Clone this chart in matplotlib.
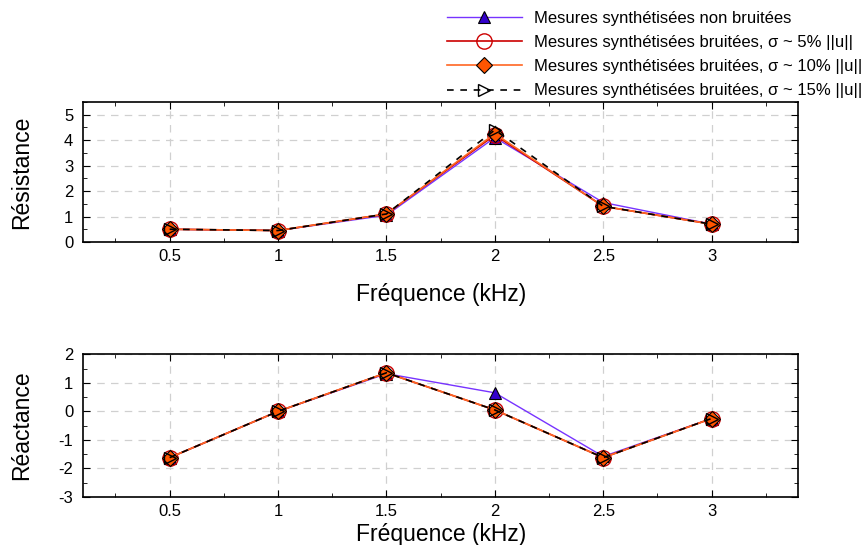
import numpy as np
import matplotlib
matplotlib.use('Agg')
from matplotlib import pyplot as plt
from matplotlib.ticker import MultipleLocator

plt.rcParams['font.family'] = ['Liberation Sans', 'DejaVu Sans']
plt.rcParams['axes.unicode_minus'] = False

freq = [0.5, 1.0, 1.5, 2.0, 2.5, 3.0]

res_clean = [0.50, 0.45, 1.05, 4.10, 1.55, 0.70]
res_5 = [0.50, 0.45, 1.10, 4.20, 1.40, 0.70]
res_10 = [0.50, 0.45, 1.10, 4.25, 1.40, 0.70]
res_15 = [0.50, 0.45, 1.10, 4.40, 1.40, 0.70]

rea_clean = [-1.62, 0.00, 1.32, 0.65, -1.58, -0.25]
rea_5 = [-1.62, 0.00, 1.35, 0.05, -1.62, -0.25]
rea_10 = [-1.62, 0.00, 1.35, 0.05, -1.62, -0.25]
rea_15 = [-1.62, 0.00, 1.35, 0.05, -1.62, -0.25]

labels = ['Mesures synthétisées non bruitées',
          'Mesures synthétisées bruitées, σ ~ 5% ||u||',
          'Mesures synthétisées bruitées, σ ~ 10% ||u||',
          'Mesures synthétisées bruitées, σ ~ 15% ||u||']

styles = [
  dict(color='#7733ff', lw=1.0, marker='^', ms=9, mfc='#3300cc', mec='black', mew=0.8, ls='-'),
  dict(color='#cc0000', lw=1.2, marker='o', ms=11, mfc='none', mec='#cc0000', mew=1.0, ls='-'),
  dict(color='#ff6622', lw=1.2, marker='D', ms=8, mfc='#ff5500', mec='black', mew=0.8, ls='-'),
  dict(color='black', lw=1.2, marker='>', ms=9, mfc='none', mec='black', mew=1.0, ls=(0, (4, 4))),
]

fig = plt.figure(figsize=(8.64, 5.45), dpi=100)
ax1 = fig.add_axes([0.096, 0.556, 0.828, 0.257])
ax2 = fig.add_axes([0.096, 0.088, 0.828, 0.262])

handles = []
for data, st, lab in zip([res_clean, res_5, res_10, res_15], styles, labels):
  h, = ax1.plot(freq, data, label=lab, **st)
  handles.append(h)
for data, st in zip([rea_clean, rea_5, rea_10, rea_15], styles):
  ax2.plot(freq, data, **st)

for ax, ylab, ylim, xpad in [(ax1, 'Résistance', (0, 5.5), 14), (ax2, 'Réactance', (-3, 2), 3)]:
  ax.set_xlim(0.1, 3.4)
  ax.set_ylim(*ylim)
  ax.set_xticks(freq)
  ax.set_xticklabels(['0.5', '1', '1.5', '2', '2.5', '3'])
  ax.xaxis.set_minor_locator(MultipleLocator(0.25))
  ax.yaxis.set_major_locator(MultipleLocator(1))
  ax.yaxis.set_minor_locator(MultipleLocator(0.5))
  ax.tick_params(which='both', direction='in', top=True, right=True, labelsize=12)
  ax.tick_params(which='major', length=5)
  ax.tick_params(which='minor', length=3)
  ax.tick_params(axis='y', pad=7)
  ax.tick_params(axis='x', pad=5)
  ax.grid(True, which='major', color='#d0d0d0', ls=(0, (6, 5)), lw=0.9)
  ax.set_axisbelow(True)
  ax.set_xlabel('Fréquence (kHz)', fontsize=16.5, labelpad=xpad)
  ax.set_ylabel(ylab, fontsize=16.5)
  ax.yaxis.set_label_coords(-0.07, 0.5)
  for s in ax.spines.values():
    s.set_linewidth(1.2)

fig.legend(handles=handles, loc='upper right', bbox_to_anchor=(1.0, 0.983), frameon=False,
           fontsize=12, handlelength=4.5, labelspacing=0.55, handletextpad=0.75,
           borderaxespad=0.0, borderpad=0.1)

fig.savefig('out.png', dpi=100)
